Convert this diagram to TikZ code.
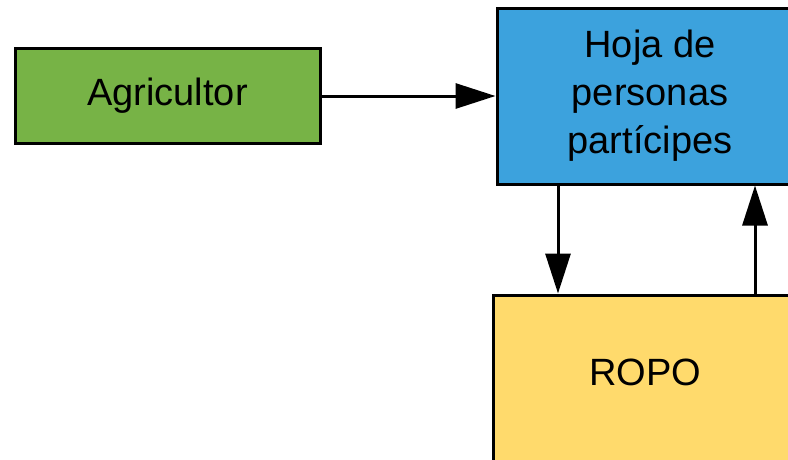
\documentclass[tikz,border=0pt]{standalone}
\usepackage{fontspec}
\setmainfont{Liberation Sans}
\usetikzlibrary{arrows.meta}
\definecolor{agrigreen}{HTML}{77B346}
\definecolor{hojablue}{HTML}{3CA2DD}
\definecolor{ropoyellow}{HTML}{FFDA6C}
\tikzset{
  block/.style={draw=black, line width=3pt, rectangle, align=center,
    inner sep=0pt, font=\fontsize{38}{48}\selectfont},
  flow/.style={draw=black, line width=3pt,
    -{Triangle[width=25pt, length=40pt]}}
}
\begin{document}
\begin{tikzpicture}[x=1pt, y=-1pt]
  \useasboundingbox (0,0) rectangle (788,459);
  \clip (0,0) rectangle (788,459);
  \node[block, fill=agrigreen, minimum width=305pt, minimum height=95pt]
    (agri) at (167.5,96) {Agricultor};
  \node[block, fill=hojablue, minimum width=306pt, minimum height=176pt]
    (hoja) at (650,96) {Hoja de\\personas\\partícipes};
  \node[block, fill=ropoyellow, minimum width=304pt, minimum height=180pt,
    label={[font=\fontsize{38}{48}\selectfont, yshift=13pt, name=ropolabel]center:ROPO}]
    (ropo) at (645,385) {};
  \draw[flow] (agri.east) -- (hoja.west |- agri.east);
  \draw[flow] (hoja.south -| 558,0) -- (ropo.north -| 558,0);
  \draw[flow] (ropo.north -| 755,0) -- (hoja.south -| 755,0);
\end{tikzpicture}
\end{document}
